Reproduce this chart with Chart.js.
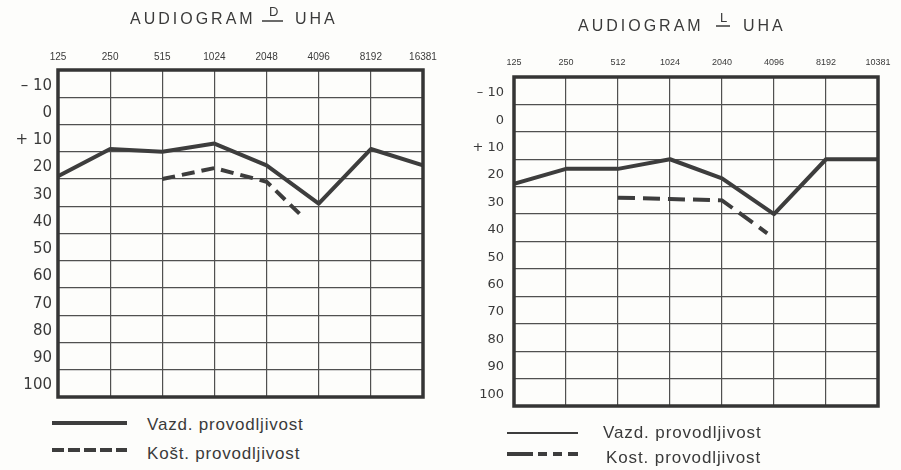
<!DOCTYPE html>
<html><head><meta charset="utf-8">
<script src="https://cdn.jsdelivr.net/npm/chart.js@4.4.1/dist/chart.umd.min.js"></script>
<style>
html,body{margin:0;padding:0;background:#fdfdfb;}
#page{position:relative;width:901px;height:470px;overflow:hidden;background:#fdfdfb;font-family:"Liberation Sans",Arial,sans-serif;color:#3a3a3a;}
canvas{position:absolute;}
.t{position:absolute;white-space:nowrap;line-height:1;}
.title{font-size:16px;letter-spacing:3px;}
.frac{font-size:13px;}
.lg{font-size:17px;letter-spacing:0.8px;}
svg{position:absolute;left:0;top:0;}
</style></head><body>
<div id="page">
<canvas id="cD" width="450" height="415" style="left:0;top:0"></canvas>
<canvas id="cL" width="451" height="425" style="left:450px;top:0"></canvas>

<div class="t title" style="left:130px;top:11px">AUDIOGRAM</div>
<div class="t frac" style="left:269px;top:5px">D</div>
<div class="t title" style="left:295px;top:11px">UHA</div>

<div class="t title" style="left:578px;top:18px">AUDIOGRAM</div>
<div class="t frac" style="left:720px;top:11px">L</div>
<div class="t title" style="left:743px;top:18px">UHA</div>

<div class="t lg" style="left:147px;top:416px">Vazd. provodljivost</div>
<div class="t lg" style="left:147px;top:445px">Košt. provodljivost</div>
<div class="t lg" style="left:603px;top:424px;letter-spacing:0.9px">Vazd. provodljivost</div>
<div class="t lg" style="left:606px;top:449px;letter-spacing:0.9px">Kost. provodljivost</div>

<svg width="901" height="470">
  <line x1="262" y1="21" x2="283" y2="21" stroke="#3a3a3a" stroke-width="1.5"/>
  <line x1="716" y1="26" x2="730" y2="26" stroke="#3a3a3a" stroke-width="1.5"/>
  <line x1="52" y1="423" x2="127" y2="423" stroke="#3d3d3d" stroke-width="4"/>
  <line x1="52" y1="450" x2="127" y2="450" stroke="#3d3d3d" stroke-width="4" stroke-dasharray="12 4"/>
  <line x1="507" y1="433" x2="578" y2="433" stroke="#3d3d3d" stroke-width="2"/>
  <line x1="507" y1="454" x2="578" y2="454" stroke="#3d3d3d" stroke-width="4" stroke-dasharray="26 5 9 6 9 6 12"/>
</svg>
</div>
<script>
// ---- data ----
const freqLabelsD = ['125','250','515','1024','2048','4096','8192','16381'];
const freqLabelsL = ['125','250','512','1024','2040','4096','8192','10381'];
const yTickValues = [-10, 0, 10, 20, 30, 40, 50, 60, 70, 80, 90, 100];
const yTickLabels = ['\u2013 10', '0', '+ 10', '20', '30', '40', '50', '60', '70', '80', '90', '100'];

// desno uho (D)
const airD = [24, 14, 15, 12, 20, 34, 14, 20];
const boneDx = [2, 3, 4, 4.7];
const boneDy = [25, 21, 26, 39];

// lijevo uho (L)
const airL = [24, 18.5, 18.5, 15, 22, 35, 15, 15];
const boneLx = [2, 3, 4, 4.87];
const boneLy = [29, 29.5, 30, 42];

const INK = '#3d3d3d';
const GRID = '#505050';

const frame = {
  id: 'frame',
  afterDraw(c) {
    const a = c.chartArea, x = c.ctx;
    x.save();
    x.strokeStyle = '#353535';
    x.lineWidth = 3.5;
    x.strokeRect(a.left, a.top, a.right - a.left, a.bottom - a.top);
    x.restore();
  }
};

function makeChart(id, ticksX, air, boneX, boneY, d) {
  const airPts = air.map((v, i) => ({x: i, y: v}));
  const bonePts = boneX.map((x, i) => ({x: x, y: boneY[i]}));
  return new Chart(document.getElementById(id), {
    type: 'line',
    data: {datasets: [
      {label: 'Vazd. provodljivost', data: airPts, borderColor: INK, borderWidth: 4,
       pointRadius: 0, tension: 0, fill: false, borderJoinStyle: 'round'},
      {label: 'Košt. provodljivost', data: bonePts, borderColor: INK, borderWidth: 4,
       borderDash: d.dash, pointRadius: 0, tension: 0, fill: false}
    ]},
    options: {
      responsive: false, animation: false, devicePixelRatio: 1,
      layout: {padding: {left: 0, top: 0, right: d.padR, bottom: d.padB}},
      plugins: {legend: {display: false}, tooltip: {enabled: false}, title: {display: false}},
      scales: {
        x: {
          type: 'linear', position: 'top', min: 0, max: ticksX.length - 1,
          afterBuildTicks: s => { s.ticks = ticksX.map((_, i) => ({value: i})); },
          afterFit: s => { s.height = d.xH; },
          ticks: {callback: v => (ticksX[v] !== undefined ? ticksX[v] : ''),
                  font: {family: 'Liberation Sans', size: d.xFont}, color: '#3a3a3a',
                  padding: d.xPad, maxRotation: 0, autoSkip: false},
          grid: {color: GRID, lineWidth: 1.2, drawTicks: false, tickLength: 0},
          border: {display: false}
        },
        y: {
          type: 'linear', reverse: true, min: -15, max: 105,
          afterFit: s => { s.width = d.yW; },
          ticks: {stepSize: 5, autoSkip: false,
                  callback: v => { const i = yTickValues.indexOf(v); return i >= 0 ? yTickLabels[i] : ''; },
                  font: {family: 'DejaVu Sans', size: d.yFont}, color: '#3a3a3a',
                  padding: d.yPad, labelOffset: 2},
          grid: {color: c => (c.tick && Math.abs(c.tick.value % 10) === 5) ? GRID : 'rgba(0,0,0,0)',
                 lineWidth: 1.2, drawTicks: false, tickLength: 0},
          border: {display: false}
        }
      }
    },
    plugins: [frame]
  });
}

makeChart('cD', freqLabelsD, airD, boneDx, boneDy,
  {yW: 58, xH: 70, padR: 27, padB: 18, xPad: 7, yPad: 6, xFont: 10, yFont: 15, dash: [13, 7]});
makeChart('cL', freqLabelsL, airL, boneLx, boneLy,
  {yW: 64, xH: 77, padR: 23, padB: 19, xPad: 9, yPad: 10, xFont: 9, yFont: 13, dash: [17, 8]});
</script>
</body></html>
